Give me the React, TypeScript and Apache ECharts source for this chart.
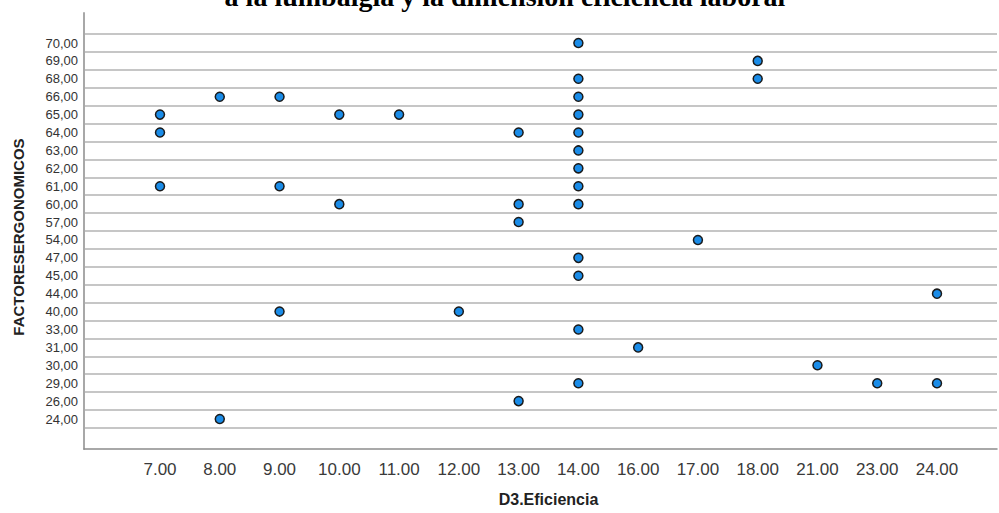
import React, { useEffect, useRef } from "react";
import * as echarts from "echarts";

const titleText = "a la lumbalgia y la dimensión eficiencia laboral";
const xName = "D3.Eficiencia";
const yName = "FACTORESERGONOMICOS";

const xCategories = ["7.00", "8.00", "9.00", "10.00", "11.00", "12.00", "13.00", "14.00", "16.00", "17.00", "18.00", "21.00", "23.00", "24.00"];
const yCategories = ["24,00", "26,00", "29,00", "30,00", "31,00", "33,00", "40,00", "44,00", "45,00", "47,00", "54,00", "57,00", "60,00", "61,00", "62,00", "63,00", "64,00", "65,00", "66,00", "68,00", "69,00", "70,00"];

// each point: D3.Eficiencia value and FACTORESERGONOMICOS value
const pointX = [
  "14.00",
  "18.00",
  "14.00", "18.00",
  "8.00", "9.00", "14.00",
  "7.00", "10.00", "11.00", "14.00",
  "7.00", "13.00", "14.00",
  "14.00",
  "14.00",
  "7.00", "9.00", "14.00",
  "10.00", "13.00", "14.00",
  "13.00",
  "17.00",
  "14.00",
  "14.00",
  "24.00",
  "9.00", "12.00",
  "14.00",
  "16.00",
  "21.00",
  "14.00", "23.00", "24.00",
  "13.00",
  "8.00",
];
const pointY = [
  "70,00",
  "69,00",
  "68,00", "68,00",
  "66,00", "66,00", "66,00",
  "65,00", "65,00", "65,00", "65,00",
  "64,00", "64,00", "64,00",
  "63,00",
  "62,00",
  "61,00", "61,00", "61,00",
  "60,00", "60,00", "60,00",
  "57,00",
  "54,00",
  "47,00",
  "45,00",
  "44,00",
  "40,00", "40,00",
  "33,00",
  "31,00",
  "30,00",
  "29,00", "29,00", "29,00",
  "26,00",
  "24,00",
];

export default function App() {
  const ref = useRef<HTMLDivElement>(null);
  useEffect(() => {
    if (!ref.current) return;
    const chart = echarts.init(ref.current, undefined, { renderer: "svg" });
    const W = 999;
    const plotLeft = 84;
    const plotRight = 997;
    const frameTop = 13;
    const frameBottom = 449;
    const firstCatY = 43;
    const lastCatY = 419;
    const firstCatX = 160;
    const lastCatX = 937;
    const stepY = (lastCatY - firstCatY) / (yCategories.length - 1);
    const stepX = (lastCatX - firstCatX) / (xCategories.length - 1);
    const dataTop = firstCatY - stepY / 2;
    const dataBottom = lastCatY + stepY / 2;
    const xMin = -(firstCatX - plotLeft) / stepX;
    const xMax = xCategories.length - 1 + (plotRight - lastCatX) / stepX;

    const data = pointX.map((x, i) => [xCategories.indexOf(x), yCategories.indexOf(pointY[i])]);

    chart.setOption({
      animation: false,
      backgroundColor: "#ffffff",
      textStyle: { fontFamily: "Arial, 'Liberation Sans', sans-serif" },
      grid: [
        { left: plotLeft, right: W - plotRight, top: frameTop, bottom: 513 - frameBottom, outerBoundsMode: "none", containLabel: false },
        { left: plotLeft, right: W - plotRight, top: dataTop, bottom: 513 - dataBottom, outerBoundsMode: "none", containLabel: false },
        { left: firstCatX - stepX / 2, right: W - (lastCatX + stepX / 2), top: dataTop, bottom: 513 - dataBottom, outerBoundsMode: "none", containLabel: false },
      ],
      xAxis: [
        {
          gridIndex: 0, type: "value", min: 0, max: 1,
          axisLine: { show: true, lineStyle: { color: "#8c8c8c", width: 1.5 } },
          axisTick: { show: false }, axisLabel: { show: false }, splitLine: { show: false },
        },
        {
          gridIndex: 1, type: "value", min: xMin, max: xMax, show: false,
        },
        {
          gridIndex: 2, type: "category", data: xCategories, boundaryGap: true,
          axisLine: { show: false }, axisTick: { show: false },
          axisLabel: { margin: 33, fontSize: 17, color: "#3a3a3a", interval: 0, fontFamily: "Arial, 'Liberation Sans', sans-serif" },
          name: xName, nameLocation: "middle", nameGap: 64, nameMoveOverlap: false,
          nameTextStyle: { fontSize: 16, fontWeight: "bold", color: "#222222", verticalAlign: "top", fontFamily: "Arial, 'Liberation Sans', sans-serif" },
        },
      ],
      yAxis: [
        {
          gridIndex: 0, type: "value", min: 0, max: 1,
          axisLine: { show: true, lineStyle: { color: "#a8a8a8", width: 2 } },
          axisTick: { show: false }, axisLabel: { show: false }, splitLine: { show: false },
        },
        {
          gridIndex: 1, type: "category", data: yCategories, boundaryGap: true,
          axisLine: { show: false }, axisTick: { show: false },
          axisLabel: { margin: 6, fontSize: 13, color: "#333333", interval: 0, fontFamily: "Arial, 'Liberation Sans', sans-serif" },
          splitLine: { show: true, interval: 0, lineStyle: { color: "#c6c6c6", width: 1.8 } },
        },
        {
          gridIndex: 2, type: "value", show: false, min: 0, max: 1,
        },
      ],
      graphic: [
        {
          type: "text", x: 505, y: -4, silent: true,
          style: {
            text: titleText, fill: "#000000", align: "center", verticalAlign: "middle",
            font: "bold 28px 'Liberation Serif', 'Times New Roman', serif",
          },
        },
        {
          type: "text", x: 18, y: 237, rotation: Math.PI / 2, silent: true,
          style: {
            text: yName, fill: "#222222", align: "center", verticalAlign: "middle",
            font: "bold 15px Arial, 'Liberation Sans', sans-serif",
          },
        },
      ],
      series: [
        {
          type: "scatter", xAxisIndex: 1, yAxisIndex: 1, data,
          symbol: "circle", symbolSize: 9,
          itemStyle: { color: "#1a8ce8", borderColor: "#1a1a1a", borderWidth: 1.5, opacity: 1 },
        },
      ],
    });
    return () => chart.dispose();
  }, []);
  return <div ref={ref} style={{ width: 999, height: 513, position: "absolute", left: 0, top: 0 }} />;
}
